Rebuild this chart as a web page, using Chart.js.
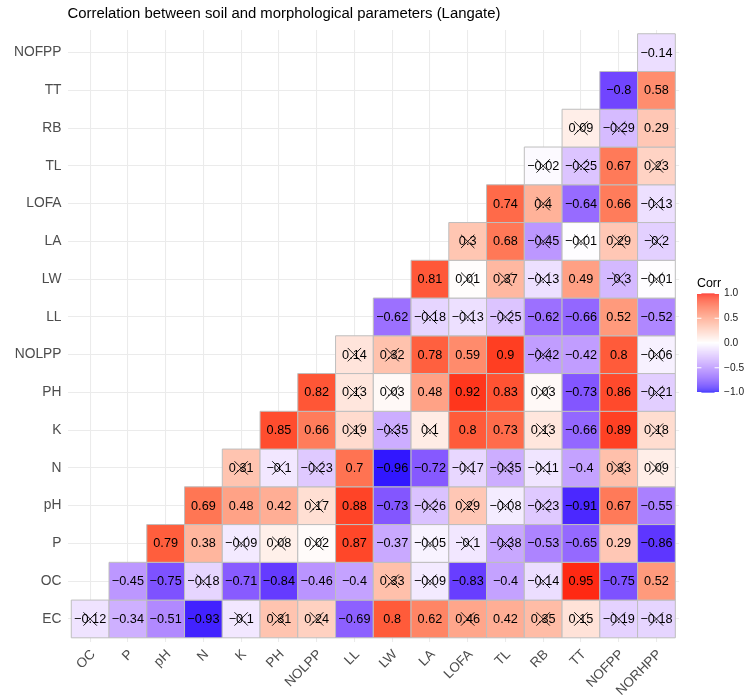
<!DOCTYPE html>
<html>
<head>
<meta charset="utf-8">
<title>Correlation between soil and morphological parameters (Langate)</title>
<script src="https://cdn.jsdelivr.net/npm/chart.js@4/dist/chart.umd.min.js"></script>
<style>
  html, body { margin: 0; padding: 0; background: #ffffff; }
  #wrap { width: 748px; height: 698px; position: relative; }
</style>
</head>
<body>
<div id="wrap"><canvas id="corr"></canvas></div>
<script>
// Variables across the bottom (columns) and up the side (rows, bottom to top)
const colLabels = ['OC', 'P', 'pH', 'N', 'K', 'PH', 'NOLPP', 'LL', 'LW', 'LA', 'LOFA', 'TL', 'RB', 'TT', 'NOFPP', 'NORHPP'];
const rowLabels = ['EC', 'OC', 'P', 'pH', 'N', 'K', 'PH', 'NOLPP', 'LL', 'LW', 'LA', 'LOFA', 'TL', 'RB', 'TT', 'NOFPP'];

// Correlation coefficients, one array per row; row i starts at column i
const rEC    = [-0.12, -0.34, -0.51, -0.93, -0.1, 0.31, 0.24, -0.69, 0.8, 0.62, 0.46, 0.42, 0.35, 0.15, -0.19, -0.18];
const rOC    = [-0.45, -0.75, -0.18, -0.71, -0.84, -0.46, -0.4, 0.33, -0.09, -0.83, -0.4, -0.14, 0.95, -0.75, 0.52];
const rP     = [0.79, 0.38, -0.09, 0.08, 0.02, 0.87, -0.37, -0.05, -0.1, -0.38, -0.53, -0.65, 0.29, -0.86];
const rpH    = [0.69, 0.48, 0.42, 0.17, 0.88, -0.73, -0.26, 0.29, -0.08, -0.23, -0.91, 0.67, -0.55];
const rN     = [0.31, -0.1, -0.23, 0.7, -0.96, -0.72, -0.17, -0.35, -0.11, -0.4, 0.33, 0.09];
const rK     = [0.85, 0.66, 0.19, -0.35, 0.1, 0.8, 0.73, 0.13, -0.66, 0.89, 0.18];
const rPH    = [0.82, 0.13, 0.03, 0.48, 0.92, 0.83, 0.03, -0.73, 0.86, -0.21];
const rNOLPP = [0.14, 0.32, 0.78, 0.59, 0.9, -0.42, -0.42, 0.8, -0.06];
const rLL    = [-0.62, -0.18, -0.13, -0.25, -0.62, -0.66, 0.52, -0.52];
const rLW    = [0.81, 0.01, 0.37, -0.13, 0.49, -0.3, -0.01];
const rLA    = [0.3, 0.68, -0.45, -0.01, 0.29, -0.2];
const rLOFA  = [0.74, 0.4, -0.64, 0.66, -0.13];
const rTL    = [-0.02, -0.25, 0.67, 0.23];
const rRB    = [0.09, -0.29, 0.29];
const rTT    = [-0.8, 0.58];
const rNOFPP = [-0.14];

// Non-significant coefficients (1 = crossed out), aligned with the arrays above
const nsEC    = [1, 0, 0, 0, 1, 1, 1, 0, 0, 0, 1, 0, 1, 1, 1, 1];
const nsOC    = [0, 0, 1, 0, 0, 0, 0, 1, 1, 0, 0, 1, 0, 0, 0];
const nsP     = [0, 0, 1, 1, 1, 0, 0, 1, 1, 1, 0, 0, 0, 0];
const nspH    = [0, 0, 0, 1, 0, 0, 1, 1, 1, 1, 0, 0, 0];
const nsN     = [1, 1, 1, 0, 0, 0, 1, 1, 1, 0, 1, 1];
const nsK     = [0, 0, 1, 1, 1, 0, 0, 1, 0, 0, 1];
const nsPH    = [0, 1, 1, 0, 0, 0, 1, 0, 0, 1];
const nsNOLPP = [1, 1, 0, 0, 0, 1, 0, 0, 1];
const nsLL    = [0, 1, 1, 1, 0, 0, 0, 0];
const nsLW    = [0, 1, 1, 1, 0, 1, 1];
const nsLA    = [1, 0, 1, 1, 1, 1];
const nsLOFA  = [0, 1, 0, 0, 1];
const nsTL    = [1, 1, 0, 1];
const nsRB    = [1, 1, 0];
const nsTT    = [0, 0];
const nsNOFPP = [0];

// Legend breaks
const legendBreaks = [1.0, 0.5, 0.0, -0.5, -1.0];

const rowValues = [rEC, rOC, rP, rpH, rN, rK, rPH, rNOLPP, rLL, rLW, rLA, rLOFA, rTL, rRB, rTT, rNOFPP];
const rowFlags  = [nsEC, nsOC, nsP, nspH, nsN, nsK, nsPH, nsNOLPP, nsLL, nsLW, nsLA, nsLOFA, nsTL, nsRB, nsTT, nsNOFPP];

const cells = [];
rowValues.forEach((vals, r) => {
  vals.forEach((v, k) => {
    cells.push({ x: r + k, y: r, v: v, ns: rowFlags[r][k] === 1 });
  });
});

// ---- Diverging blue-white-red palette interpolated in CIE Lab ----
function toLin(c) { c /= 255; return c <= 0.04045 ? c / 12.92 : Math.pow((c + 0.055) / 1.055, 2.4); }
function fromLin(c) { const s = c <= 0.0031308 ? 12.92 * c : 1.055 * Math.pow(c, 1 / 2.4) - 0.055; return Math.round(Math.min(1, Math.max(0, s)) * 255); }
const WX = 0.95047, WY = 1.0, WZ = 1.08883;
function fLab(t) { const d = 6 / 29; return t > d * d * d ? Math.cbrt(t) : t / (3 * d * d) + 4 / 29; }
function fInv(t) { const d = 6 / 29; return t > d ? t * t * t : 3 * d * d * (t - 4 / 29); }
function rgbToLab(rgb) {
  const r = toLin(rgb[0]), g = toLin(rgb[1]), b = toLin(rgb[2]);
  const X = (0.4124564 * r + 0.3575761 * g + 0.1804375 * b) / WX;
  const Y = (0.2126729 * r + 0.7151522 * g + 0.0721750 * b) / WY;
  const Z = (0.0193339 * r + 0.1191920 * g + 0.9503041 * b) / WZ;
  const fx = fLab(X), fy = fLab(Y), fz = fLab(Z);
  return [116 * fy - 16, 500 * (fx - fy), 200 * (fy - fz)];
}
function labToRgb(lab) {
  const fy = (lab[0] + 16) / 116, fx = fy + lab[1] / 500, fz = fy - lab[2] / 200;
  const X = fInv(fx) * WX, Y = fInv(fy) * WY, Z = fInv(fz) * WZ;
  const r = 3.2404542 * X - 1.5371385 * Y - 0.4985314 * Z;
  const g = -0.9692660 * X + 1.8760108 * Y + 0.0415560 * Z;
  const b = 0.0556434 * X - 0.2040259 * Y + 1.0572252 * Z;
  return [fromLin(r), fromLin(g), fromLin(b)];
}
const LAB_LOW = rgbToLab([0, 0, 255]);
const LAB_MID = rgbToLab([255, 255, 255]);
const LAB_HIGH = rgbToLab([255, 0, 0]);
function corrColor(v) {
  v = Math.max(-1, Math.min(1, v));
  const end = v < 0 ? LAB_LOW : LAB_HIGH;
  const t = Math.abs(v);
  const lab = [0, 1, 2].map(i => LAB_MID[i] + (end[i] - LAB_MID[i]) * t);
  const c = labToRgb(lab);
  return 'rgb(' + c[0] + ',' + c[1] + ',' + c[2] + ')';
}

const FONT = '"Liberation Sans", Arial, Helvetica, sans-serif';

function fmt(v) {
  return String(v).replace('-', '\u2212');
}

// Coefficient text and crosses over the tiles
const cellText = {
  id: 'cellText',
  afterDatasetsDraw(chart) {
    const ctx = chart.ctx;
    const meta = chart.getDatasetMeta(0);
    ctx.save();
    ctx.font = '12.7px ' + FONT;
    ctx.fillStyle = '#000000';
    ctx.textAlign = 'center';
    ctx.textBaseline = 'middle';
    meta.data.forEach((el, i) => {
      ctx.fillText(fmt(cells[i].v), el.x, el.y + 0.5);
    });
    ctx.strokeStyle = '#000000';
    ctx.lineWidth = 0.9;
    const h = 6.7;
    meta.data.forEach((el, i) => {
      if (!cells[i].ns) return;
      ctx.beginPath();
      ctx.moveTo(el.x - h, el.y - h);
      ctx.lineTo(el.x + h, el.y + h);
      ctx.moveTo(el.x - h, el.y + h);
      ctx.lineTo(el.x + h, el.y - h);
      ctx.stroke();
    });
    ctx.restore();
  }
};

// Continuous colour bar legend on the right
const colorBar = {
  id: 'colorBar',
  afterDraw(chart) {
    const ctx = chart.ctx;
    const left = 697, top = 293.5, w = 22, h = 99;
    ctx.save();
    ctx.fillStyle = '#000000';
    ctx.font = '12.4px ' + FONT;
    ctx.textAlign = 'left';
    ctx.textBaseline = 'alphabetic';
    ctx.fillText('Corr', 697, 286.5);
    for (let i = 0; i < h; i++) {
      const v = 1 - 2 * (i + 0.5) / h;
      ctx.fillStyle = corrColor(v);
      ctx.fillRect(left, top + i, w, 1.02);
    }
    ctx.strokeStyle = '#ffffff';
    ctx.lineWidth = 1;
    ctx.font = '10.2px ' + FONT;
    ctx.textBaseline = 'middle';
    legendBreaks.forEach(b => {
      const y = top + (1 - b) / 2 * h;
      ctx.beginPath();
      ctx.moveTo(left, y); ctx.lineTo(left + w / 5, y);
      ctx.moveTo(left + w - w / 5, y); ctx.lineTo(left + w, y);
      ctx.stroke();
      ctx.fillStyle = '#1a1a1a';
      ctx.fillText(fmt(b.toFixed(1)), left + w + 5, y);
    });
    ctx.restore();
  }
};

const gridStyle = { color: '#EBEBEB', lineWidth: 1.07, drawTicks: false };

function tileRadius(ctx) {
  const s = ctx.chart.scales.x;
  return Math.abs(s.getPixelForValue(1) - s.getPixelForValue(0)) / Math.SQRT2;
}

new Chart(document.getElementById('corr'), {
  type: 'scatter',
  data: {
    datasets: [{
      data: cells,
      pointStyle: 'rect',
      backgroundColor: ctx => corrColor(ctx.raw.v),
      borderColor: '#BEBEBE',
      borderWidth: 1,
      pointRadius: tileRadius,
      pointHoverRadius: tileRadius
    }]
  },
  options: {
    responsive: true,
    maintainAspectRatio: false,
    animation: false,
    events: [],
    layout: { padding: { left: 0, right: 68.9, top: 0, bottom: 0 } },
    plugins: {
      legend: { display: false },
      tooltip: { enabled: false },
      title: {
        display: true,
        text: 'Correlation between soil and morphological parameters (Langate)',
        align: 'start',
        fullSize: false,
        color: '#000000',
        font: { family: FONT, size: 14.9, weight: 'normal' },
        padding: { top: 5, bottom: 7.1 }
      }
    },
    scales: {
      x: {
        type: 'linear',
        position: 'bottom',
        min: -0.6,
        max: 15.6,
        afterBuildTicks: s => { s.ticks = colLabels.map((_, i) => ({ value: i })); },
        afterFit: s => { s.height = 56.4; },
        ticks: {
          autoSkip: false,
          minRotation: 45,
          maxRotation: 45,
          padding: 5,
          labelOffset: 3,
          color: '#4D4D4D',
          font: { family: FONT, size: 13.5 },
          callback: v => colLabels[v]
        },
        grid: gridStyle,
        border: { display: false }
      },
      y: {
        type: 'linear',
        position: 'left',
        min: -0.6,
        max: 15.6,
        afterBuildTicks: s => { s.ticks = rowLabels.map((_, i) => ({ value: i })); },
        afterFit: s => { s.width = 67.5; },
        ticks: {
          autoSkip: false,
          padding: 6,
          color: '#4D4D4D',
          font: { family: FONT, size: 13.8 },
          callback: v => rowLabels[v]
        },
        grid: gridStyle,
        border: { display: false }
      }
    }
  },
  plugins: [cellText, colorBar]
});
</script>
</body>
</html>
